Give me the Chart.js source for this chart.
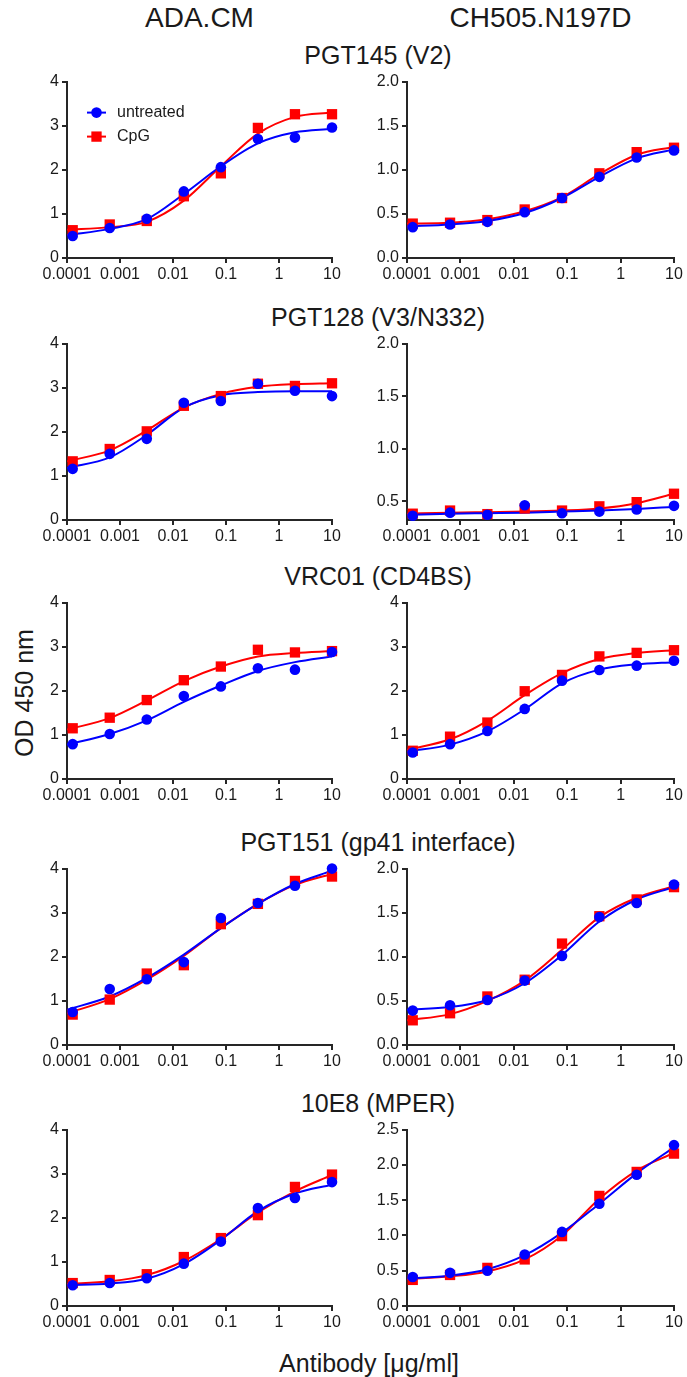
<!DOCTYPE html>
<html>
<head>
<meta charset="utf-8">
<script src="https://cdn.jsdelivr.net/npm/chart.js@4"></script>
<style>
  body { margin: 0; background: #fff; }
  #page { position: relative; width: 687px; height: 1377px; font-family: "Liberation Sans", Arial, sans-serif; color: #1a1a1a; }
  .lbl { position: absolute; white-space: nowrap; transform: translate(-50%, -50%); line-height: 1; }
</style>
</head>
<body>
<div id="page"></div>
<script>
// dilution series (5-fold from 10 ug/ml) and points used for the fitted curves
const doses = [0.000128, 0.00064, 0.0032, 0.016, 0.08, 0.4, 2, 10];
const fitDoses = [0.0001, 0.00064, 0.0032, 0.016, 0.08, 0.4, 2, 10];
const xTicks = [0.0001, 0.001, 0.01, 0.1, 1, 10];
const xTickLabels = ["0.0001", "0.001", "0.01", "0.1", "1", "10"];

const strains = ["ADA.CM", "CH505.N197D"];
const antibodies = ["PGT145 (V2)", "PGT128 (V3/N332)", "VRC01 (CD4BS)", "PGT151 (gp41 interface)", "10E8 (MPER)"];
const seriesNames = ["untreated", "CpG"];

// y ticks
const adaYTicks = [0, 1, 2, 3, 4];
const ch505YTicks = [[0, 0.5, 1, 1.5, 2], [0.5, 1, 1.5, 2], [0, 1, 2, 3, 4], [0, 0.5, 1, 1.5, 2], [0, 0.5, 1, 1.5, 2, 2.5]];
const ch505YMin = [0, 0.32, 0, 0, 0];
const ch505YDecimals = [1, 1, 0, 1, 1];

// PGT145 (V2)
const adaPgt145Untreated = [0.50, 0.68, 0.89, 1.51, 2.06, 2.70, 2.73, 2.96];
const adaPgt145CpG = [0.63, 0.76, 0.84, 1.40, 1.92, 2.95, 3.26, 3.26];
const adaPgt145UntreatedFit = [0.52, 0.66, 0.88, 1.45, 2.08, 2.60, 2.85, 2.93];
const adaPgt145CpGFit = [0.64, 0.70, 0.82, 1.30, 2.08, 2.82, 3.20, 3.30];
const chPgt145Untreated = [0.35, 0.38, 0.41, 0.52, 0.68, 0.92, 1.14, 1.22];
const chPgt145CpG = [0.39, 0.40, 0.43, 0.55, 0.68, 0.96, 1.20, 1.25];
const chPgt145UntreatedFit = [0.36, 0.38, 0.42, 0.51, 0.68, 0.92, 1.13, 1.23];
const chPgt145CpGFit = [0.39, 0.40, 0.44, 0.53, 0.69, 0.95, 1.17, 1.26];

// PGT128 (V3/N332)
const adaPgt128Untreated = [1.16, 1.50, 1.84, 2.66, 2.70, 3.09, 2.93, 2.81];
const adaPgt128CpG = [1.33, 1.61, 2.01, 2.59, 2.81, 3.09, 3.04, 3.10];
const adaPgt128UntreatedFit = [1.18, 1.42, 1.93, 2.55, 2.83, 2.90, 2.92, 2.92];
const adaPgt128CpGFit = [1.33, 1.58, 2.03, 2.55, 2.86, 3.02, 3.08, 3.10];
const chPgt128Untreated = [0.36, 0.39, 0.37, 0.46, 0.385, 0.40, 0.42, 0.455];
const chPgt128CpG = [0.38, 0.41, 0.376, 0.43, 0.41, 0.45, 0.49, 0.57];
const chPgt128UntreatedFit = [0.37, 0.38, 0.385, 0.39, 0.40, 0.41, 0.425, 0.445];
const chPgt128CpGFit = [0.38, 0.39, 0.395, 0.40, 0.41, 0.43, 0.48, 0.57];

// VRC01 (CD4BS)
const adaVrc01Untreated = [0.79, 1.02, 1.35, 1.88, 2.10, 2.51, 2.48, 2.88];
const adaVrc01CpG = [1.15, 1.39, 1.79, 2.24, 2.55, 2.93, 2.87, 2.90];
const adaVrc01UntreatedFit = [0.78, 1.02, 1.33, 1.75, 2.12, 2.45, 2.65, 2.78];
const adaVrc01CpGFit = [1.12, 1.38, 1.78, 2.22, 2.55, 2.78, 2.86, 2.90];
const chVrc01Untreated = [0.60, 0.79, 1.09, 1.59, 2.23, 2.47, 2.57, 2.68];
const chVrc01CpG = [0.64, 0.96, 1.28, 1.99, 2.36, 2.78, 2.86, 2.92];
const chVrc01UntreatedFit = [0.62, 0.78, 1.08, 1.58, 2.17, 2.48, 2.60, 2.65];
const chVrc01CpGFit = [0.66, 0.90, 1.32, 1.90, 2.40, 2.72, 2.86, 2.92];

// PGT151 (gp41 interface)
const adaPgt151Untreated = [0.75, 1.27, 1.49, 1.88, 2.88, 3.22, 3.61, 4.00];
const adaPgt151CpG = [0.69, 1.03, 1.62, 1.81, 2.74, 3.20, 3.72, 3.82];
const adaPgt151UntreatedFit = [0.80, 1.10, 1.52, 2.05, 2.65, 3.20, 3.65, 3.95];
const adaPgt151CpGFit = [0.72, 1.04, 1.48, 2.02, 2.65, 3.20, 3.63, 3.88];
const chPgt151Untreated = [0.39, 0.45, 0.51, 0.73, 1.01, 1.45, 1.61, 1.82];
const chPgt151CpG = [0.28, 0.36, 0.55, 0.74, 1.15, 1.46, 1.65, 1.79];
const chPgt151UntreatedFit = [0.40, 0.43, 0.51, 0.70, 1.02, 1.40, 1.65, 1.79];
const chPgt151CpGFit = [0.28, 0.35, 0.50, 0.73, 1.08, 1.45, 1.67, 1.80];

// 10E8 (MPER)
const ada10e8Untreated = [0.47, 0.52, 0.63, 0.96, 1.46, 2.22, 2.45, 2.81];
const ada10e8CpG = [0.52, 0.59, 0.72, 1.11, 1.54, 2.06, 2.70, 2.98];
const ada10e8UntreatedFit = [0.47, 0.51, 0.62, 0.95, 1.50, 2.15, 2.55, 2.75];
const ada10e8CpGFit = [0.50, 0.56, 0.70, 1.02, 1.52, 2.12, 2.60, 2.97];
const ch10e8Untreated = [0.41, 0.47, 0.50, 0.73, 1.05, 1.45, 1.86, 2.28];
const ch10e8CpG = [0.37, 0.44, 0.54, 0.66, 0.99, 1.56, 1.90, 2.16];
const ch10e8UntreatedFit = [0.39, 0.43, 0.52, 0.72, 1.04, 1.45, 1.88, 2.25];
const ch10e8CpGFit = [0.38, 0.42, 0.49, 0.66, 1.00, 1.52, 1.92, 2.17];

const panelData = [
  [[adaPgt145Untreated, adaPgt145CpG, adaPgt145UntreatedFit, adaPgt145CpGFit],
   [chPgt145Untreated, chPgt145CpG, chPgt145UntreatedFit, chPgt145CpGFit]],
  [[adaPgt128Untreated, adaPgt128CpG, adaPgt128UntreatedFit, adaPgt128CpGFit],
   [chPgt128Untreated, chPgt128CpG, chPgt128UntreatedFit, chPgt128CpGFit]],
  [[adaVrc01Untreated, adaVrc01CpG, adaVrc01UntreatedFit, adaVrc01CpGFit],
   [chVrc01Untreated, chVrc01CpG, chVrc01UntreatedFit, chVrc01CpGFit]],
  [[adaPgt151Untreated, adaPgt151CpG, adaPgt151UntreatedFit, adaPgt151CpGFit],
   [chPgt151Untreated, chPgt151CpG, chPgt151UntreatedFit, chPgt151CpGFit]],
  [[ada10e8Untreated, ada10e8CpG, ada10e8UntreatedFit, ada10e8CpGFit],
   [ch10e8Untreated, ch10e8CpG, ch10e8UntreatedFit, ch10e8CpGFit]],
];

const BLUE = "#0000ff";
const RED = "#ff0000";
const AXIS = "#262626";

// layout (px)
const PAD_TOP = 12, PAD_RIGHT = 14, Y_AXIS_W = 67, X_AXIS_H = 32, PLOT_H = 177;
const colPlotLeft = [67, 407];
const colPlotWidth = [265, 267];
const rowPlotTop = [81, 343, 602, 868, 1129];

Chart.defaults.font.family = '"Liberation Sans", Arial, sans-serif';
Chart.defaults.color = "#1a1a1a";

const page = document.getElementById("page");

function addLabel(text, x, y, size, rotate) {
  const d = document.createElement("div");
  d.className = "lbl";
  d.textContent = text;
  d.style.left = x + "px";
  d.style.top = y + "px";
  d.style.fontSize = size + "px";
  if (rotate) d.style.transform = "translate(-50%, -50%) rotate(-90deg)";
  page.appendChild(d);
}

// legend drawn inside the first panel
const insideLegend = {
  id: "insideLegend",
  afterDatasetsDraw(chart, args, opts) {
    if (!opts.show) return;
    const { ctx, chartArea } = chart;
    ctx.save();
    seriesNames.forEach((name, i) => {
      const ds = chart.data.datasets[i];
      const y = chartArea.top + 31 + i * 24;
      const x0 = chartArea.left + 20;
      ctx.strokeStyle = ds.borderColor;
      ctx.lineWidth = 2;
      ctx.beginPath();
      ctx.moveTo(x0, y);
      ctx.lineTo(x0 + 19, y);
      ctx.stroke();
      ctx.fillStyle = ds.backgroundColor;
      Chart.helpers.drawPoint(ctx, { pointStyle: ds.pointStyle, radius: ds.pointRadius, borderWidth: 0, rotation: 0 }, x0 + 9.5, y);
      ctx.fillStyle = "#1a1a1a";
      ctx.font = '16px "Liberation Sans", Arial, sans-serif';
      ctx.textBaseline = "middle";
      ctx.fillText(name, x0 + 30, y);
    });
    ctx.restore();
  },
};

function makePanel(row, col) {
  const [untreated, cpg, untreatedFit, cpgFit] = panelData[row][col];
  const yTicks = col === 0 ? adaYTicks : ch505YTicks[row];
  const yMin = col === 0 ? 0 : ch505YMin[row];
  const decimals = col === 0 ? 0 : ch505YDecimals[row];

  const w = Y_AXIS_W + colPlotWidth[col] + PAD_RIGHT;
  const h = PAD_TOP + PLOT_H + X_AXIS_H;
  const canvas = document.createElement("canvas");
  canvas.width = w;
  canvas.height = h;
  canvas.style.cssText = `position:absolute;left:${colPlotLeft[col] - Y_AXIS_W}px;top:${rowPlotTop[row] - PAD_TOP}px;width:${w}px;height:${h}px`;
  page.appendChild(canvas);

  const pts = (ys, xs) => ys.map((y, i) => ({ x: xs[i], y }));

  new Chart(canvas, {
    type: "line",
    data: {
      datasets: [
        { label: seriesNames[0], data: pts(untreated, doses), showLine: false, pointStyle: "circle", pointRadius: 5.3,
          backgroundColor: BLUE, borderColor: BLUE, pointBorderWidth: 0, clip: false },
        { label: seriesNames[1], data: pts(cpg, doses), showLine: false, pointStyle: "rect", pointRadius: 7.3,
          backgroundColor: RED, borderColor: RED, pointBorderWidth: 0, clip: false },
        { data: pts(untreatedFit, fitDoses), pointRadius: 0, borderColor: BLUE, borderWidth: 2,
          cubicInterpolationMode: "monotone", fill: false },
        { data: pts(cpgFit, fitDoses), pointRadius: 0, borderColor: RED, borderWidth: 2,
          cubicInterpolationMode: "monotone", fill: false },
      ],
    },
    options: {
      responsive: false,
      animation: false,
      devicePixelRatio: 1,
      layout: { padding: { top: PAD_TOP, right: PAD_RIGHT, left: 0, bottom: 0 } },
      plugins: {
        legend: { display: false },
        tooltip: { enabled: false },
        insideLegend: { show: row === 0 && col === 0 },
      },
      scales: {
        x: {
          type: "logarithmic",
          min: 0.0001,
          max: 10,
          afterBuildTicks: (s) => { s.ticks = xTicks.map((v) => ({ value: v })); },
          afterFit: (s) => { s.height = X_AXIS_H; },
          ticks: { callback: (v, i) => xTickLabels[i], autoSkip: false, maxRotation: 0, padding: 2,
                   font: { size: 16 }, color: "#1a1a1a" },
          grid: { drawOnChartArea: false, tickLength: 5, color: AXIS, lineWidth: 2 },
          border: { color: AXIS, width: 2 },
        },
        y: {
          min: yMin,
          max: yTicks[yTicks.length - 1],
          afterBuildTicks: (s) => { s.ticks = yTicks.map((v) => ({ value: v })); },
          afterFit: (s) => { s.width = Y_AXIS_W; },
          ticks: { callback: (v) => Number(v).toFixed(decimals), padding: 3, font: { size: 16 }, color: "#1a1a1a" },
          grid: { drawOnChartArea: false, tickLength: 5, color: AXIS, lineWidth: 2 },
          border: { color: AXIS, width: 2 },
        },
      },
    },
    plugins: [insideLegend],
  });
}

// titles
addLabel(strains[0], colPlotLeft[0] + colPlotWidth[0] / 2, 18, 28);
addLabel(strains[1], colPlotLeft[1] + colPlotWidth[1] / 2, 18, 28);
antibodies.forEach((name, r) => addLabel(name, 378, rowPlotTop[r] - 26, 25));
addLabel("OD 450 nm", 24, 693, 25, true);
addLabel("Antibody [\u03bcg/ml]", 369, 1363, 25);

for (let r = 0; r < antibodies.length; r++) {
  for (let c = 0; c < strains.length; c++) makePanel(r, c);
}
</script>
</body>
</html>
